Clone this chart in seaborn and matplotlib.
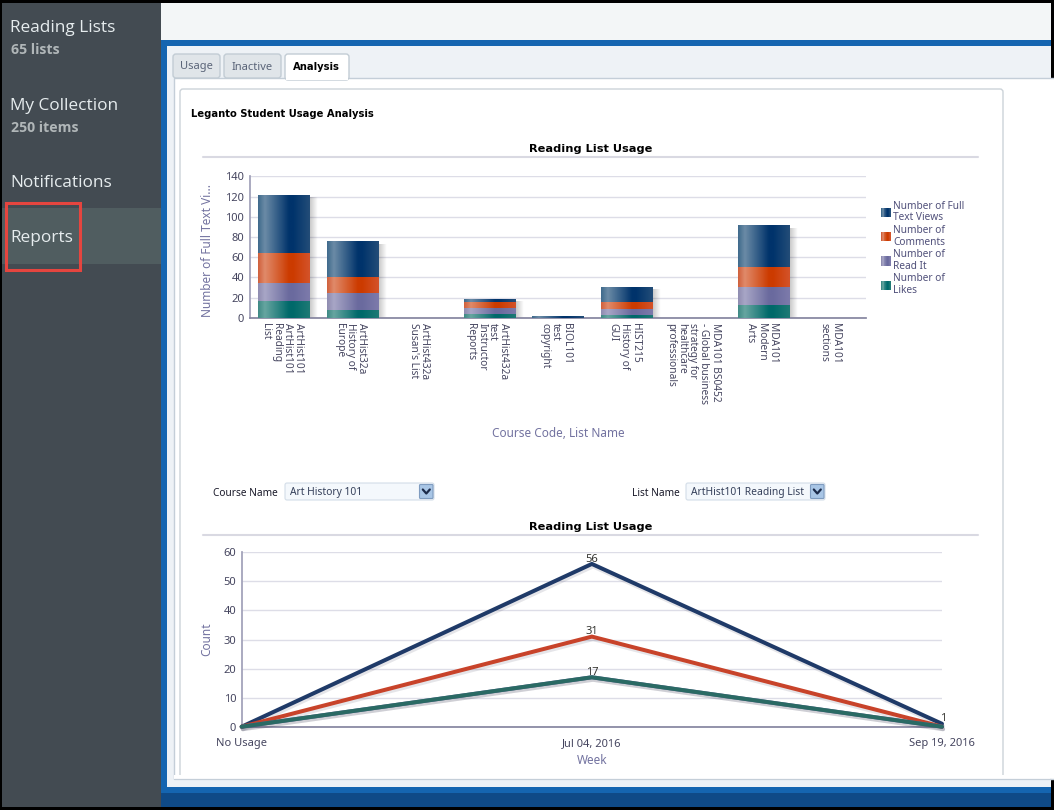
import matplotlib
matplotlib.use("Agg")
import matplotlib.pyplot as plt
import matplotlib.patheffects as pe
from matplotlib.colors import LinearSegmentedColormap
from matplotlib.legend_handler import HandlerBase
from matplotlib.patches import FancyBboxPatch, Rectangle
import numpy as np
import pandas as pd
import seaborn as sns

# chart data
course_labels = [
    "ArtHist101\nArtHist101\nReading\nList",
    "ArtHist32a\nHistory of\nEurope",
    "ArtHist432a\nSusan's List",
    "ArtHist432a\ntest\nInstructor\nReports",
    "BIOL101\ntest\ncopyright",
    "HIST215\nHistory of\nGUI",
    "MDA101 BS0452\n- Global business\nstrategy for\nhealthcare\nprofessionals",
    "MDA101\nModern\nArts",
    "MDA101\nsections",
]
likes = [17, 8, 0, 4, 0, 3, 0, 13, 0]
read_it = [17, 16, 0, 6, 0, 6, 0, 17, 0]
comments = [30, 16, 0, 6, 0, 7, 0, 20, 0]
full_text = [57, 35, 0, 2, 1, 14, 0, 41, 0]

weeks = ["No Usage", "Jul 04, 2016", "Sep 19, 2016"]
week_full_text = [0, 56, 1]
week_comments = [0, 31, 0]
week_read_it = [0, 17, 0]
week_likes = [0, 17, 0]

W, H = 1054, 810
UI_FONT = "Noto Sans"
SIDE_FONT = "Open Sans"
BOLD_FONT = "DejaVu Sans"
LABEL_COL = "#7373a0"
TICK_COL = "#45455f"

sns.set_theme(style="white")
plt.rcParams["font.family"] = [UI_FONT, "DejaVu Sans"]

GRADS = {
    "full": ["#3f6a8c", "#6b8ba6", "#00336b", "#00336b", "#234d78"],
    "comments": ["#d0603c", "#e08a6a", "#cc3b00", "#cc3b00", "#d4532a"],
    "read": ["#8f8cb0", "#a8a6c6", "#6a6a9e", "#6a6a9e", "#7d7bab"],
    "likes": ["#3f8a85", "#66a5a0", "#00696a", "#00696a", "#1f7a75"],
}
STOPS = [0, 0.13, 0.6, 0.68, 1]
LEGEND_NAMES = {
    "full": "Number of Full\nText Views",
    "comments": "Number of\nComments",
    "read": "Number of\nRead It",
    "likes": "Number of\nLikes",
}
LINE_COLS = {
    "Full": "#1f3a68",
    "Comments": "#c8432a",
    "Read": "#6a6a9e",
    "Likes": "#2a6a64",
}


def make_cmap(key):
    return LinearSegmentedColormap.from_list(key, list(zip(STOPS, GRADS[key])))


class GradientHandler(HandlerBase):
    """Legend swatch made of thin strips, so it shows the bar gradient."""

    def __init__(self, key):
        super().__init__()
        self.key = key

    def create_artists(self, legend, orig, xd, yd, width, height, fontsize, trans):
        cmap = make_cmap(self.key)
        n = 12
        return [
            Rectangle((-xd + width * i / n, -yd), width / n + 0.2, height,
                      facecolor=cmap(i / (n - 1)), edgecolor="none", transform=trans)
            for i in range(n)
        ]


def axes_px(fig, left, top, right, bottom):
    return fig.add_axes([left / W, 1 - bottom / H, (right - left) / W, (bottom - top) / H])


def rect(ax, x0, y0, x1, y1, color, edge="none", lw=0, round_=0):
    if round_:
        p = FancyBboxPatch((x0, y0), x1 - x0, y1 - y0, boxstyle=f"round,pad=0,rounding_size={round_}",
                           facecolor=color, edgecolor=edge, linewidth=lw)
    else:
        p = Rectangle((x0, y0), x1 - x0, y1 - y0, facecolor=color, edgecolor=edge, linewidth=lw)
    ax.add_patch(p)


def dropdown(ax, x0, x1, y0, y1, text):
    rect(ax, x0, y0, x1, y1, "#f4f8fc", "#d3dde8", 0.8, 2)
    rect(ax, x1 - 14.5, y0 + 1.5, x1 - 1, y1 - 1.5, "#a9c6e6", "#7f9cc0", 0.8, 1)
    cx, cy = x1 - 7.7, (y0 + y1) / 2
    ax.plot([cx - 3.5, cx, cx + 3.5], [cy - 2, cy + 2, cy - 2], color="#1c2b4a", lw=1.6)
    ax.text(x0 + 5, cy, text, fontsize=7.4, color="#35405a", va="center_baseline")


def draw_page(fig):
    ax = fig.add_axes([0, 0, 1, 1], zorder=0)
    ax.set_xlim(0, W)
    ax.set_ylim(H, 0)
    ax.axis("off")

    rect(ax, 0, 0, W, H, "black")
    rect(ax, 2, 3, 161, 807, "#434b52")
    rect(ax, 2, 208, 161, 264, "#505d60")
    rect(ax, 161, 3, 1051, 40, "#f3f6f7")
    rect(ax, 161, 40, 1051, 807, "#1565b0")
    rect(ax, 161, 793, 1051, 807, "#0f4a87")
    rect(ax, 167, 46, 1051, 787, "#eef2f6")
    rect(ax, 173.5, 78, 1060, 779, "white", "#c4ced8", 1)

    # tabs
    rect(ax, 173, 54, 220, 78, "#e0e5e9", "#c2ccd4", 1, 3)
    rect(ax, 224, 54, 281, 78, "#e0e5e9", "#c2ccd4", 1, 3)
    rect(ax, 285, 54, 349, 80, "white", "#c2ccd4", 1, 3)
    rect(ax, 286, 76, 348, 80, "white")
    ax.text(196.5, 67, "Usage", fontsize=8, color="#5a6478", ha="center", va="center")
    ax.text(252, 67, "Inactive", fontsize=8, color="#5a6478", ha="center", va="center")
    ax.text(316.5, 67, "Analysis", fontsize=7.2, color="black", ha="center", va="center",
            fontweight="bold", family=BOLD_FONT)

    # card, its bottom edge is cut off in the page
    rect(ax, 180, 89, 1003, 785, "white", "#ccd3d9", 1, 3)
    rect(ax, 174, 775, 1050, 778.5, "white")
    rect(ax, 167, 779.5, 1051, 787, "#eef2f6")
    ax.plot([174, 1051], [779, 779], color="#c4ced8", lw=0.9)

    ax.text(191, 114, "Leganto Student Usage Analysis", fontsize=7.2, color="black",
            va="center", fontweight="bold", family=BOLD_FONT)

    # chart headers
    for ty, ry in [(149, 157), (527, 535)]:
        ax.text(591, ty, "Reading List Usage", fontsize=8.2, color="black", ha="center",
                va="center", fontweight="bold", family=BOLD_FONT)
        ax.plot([203, 978], [ry, ry], color="#d9d9e2", lw=1.5)

    ax.text(213, 492, "Course Name", fontsize=7.3, color="#1a1a2a", va="center_baseline")
    dropdown(ax, 285, 434, 483, 500, "Art History 101")
    ax.text(632, 492, "List Name", fontsize=7.3, color="#1a1a2a", va="center_baseline")
    dropdown(ax, 686, 825, 483, 500, "ArtHist101 Reading List")

    # sidebar
    for txt, y in [("Reading Lists", 28), ("My Collection", 106), ("Notifications", 183), ("Reports", 238)]:
        ax.text(10.5, y, txt, fontsize=12.4, color="#e6ecee", va="center", family=SIDE_FONT)
    for txt, y in [("65 lists", 50), ("250 items", 128)]:
        ax.text(11, y, txt, fontsize=10.2, color="#b0b6b8", va="center", fontweight="bold", family=SIDE_FONT)
    ax.add_patch(Rectangle((5.5, 202.5), 74, 67, fill=False, edgecolor="#e5453f", linewidth=2.2))


def style_axes(ax, ylabel, xlabel, ymax, ystep):
    ax.set_facecolor("none")
    ax.set_ylim(0, ymax)
    ax.set_yticks(np.arange(0, ymax + 1, ystep))
    ax.grid(axis="y", color="#dddde7", lw=1)
    ax.grid(axis="x", visible=False)
    ax.set_axisbelow(True)
    for side in ["top", "right"]:
        ax.spines[side].set_visible(False)
    ax.spines["left"].set_color("#a0a0b8")
    ax.spines["bottom"].set_color("#8585a0")
    ax.tick_params(length=0, labelsize=8, labelcolor=TICK_COL, pad=4)
    ax.set_xlabel(xlabel, color=LABEL_COL, fontsize=8.5)
    ax.set_ylabel(ylabel, color=LABEL_COL, fontsize=8.5)


def draw_bars(fig):
    ax = axes_px(fig, 249.5, 176.3, 866, 317.7)
    ax.set_zorder(2)
    bottom = np.zeros(len(course_labels))
    series = [("likes", likes), ("read", read_it), ("comments", comments), ("full", full_text)]
    for key, vals in series:
        n_before = len(ax.patches)
        sns.barplot(x=course_labels, y=vals, bottom=bottom, color=GRADS[key][2], saturation=1,
                    width=0.745, ax=ax, zorder=3)
        grad = np.linspace(0, 1, 128).reshape(1, -1)
        for bar in ax.patches[n_before:]:
            bar.set_visible(False)
            if bar.get_height() > 0:
                ax.imshow(grad, cmap=make_cmap(key), aspect="auto", zorder=3, origin="lower",
                          extent=[bar.get_x(), bar.get_x() + bar.get_width(),
                                  bar.get_y(), bar.get_y() + bar.get_height()])
        bottom = bottom + np.array(vals)

    # soft shadow on the right side of each column
    fade = np.zeros((1, 32, 4))
    fade[..., 3] = np.linspace(0.24, 0, 32)
    drop = 9 / 68.5
    for i, total in enumerate(bottom):
        if total >= 2:
            right = i + 0.745 / 2
            ax.imshow(fade, aspect="auto", zorder=2, extent=[right, right + drop, 0, max(total - 2, 1)])

    ax.set_xlim(-0.5, len(course_labels) - 0.5)
    style_axes(ax, "Number of Full Text Vi...", "Course Code, List Name", 140, 20)
    ax.set_xticks(range(len(course_labels)))
    ax.set_xticklabels(course_labels, rotation=270, ha="center", va="top", multialignment="left",
                       linespacing=1.02, fontsize=7.3, color=TICK_COL)
    ax.tick_params(axis="x", pad=4)
    shift = matplotlib.transforms.ScaledTranslation(-2 / 100, 0, fig.dpi_scale_trans)
    for lab in ax.get_xticklabels():
        lab.set_transform(lab.get_transform() + shift)
    ax.xaxis.set_label_coords((558 - 249.5) / 616.5, -(427 - 317.7) / 141.4)
    ax.yaxis.set_label_coords(-(249.5 - 214) / 616.5, (317.7 - 250) / 141.4)

    handles = [Rectangle((0, 0), 1, 1) for _ in GRADS]
    names = list(GRADS)
    leg = ax.legend(handles, [LEGEND_NAMES[k] for k in names],
                    handler_map={h: GradientHandler(k) for h, k in zip(handles, names)},
                    loc="upper left", bbox_to_anchor=(881 / W, 1 - 201 / H), bbox_transform=fig.transFigure,
                    frameon=False, fontsize=7.3, labelcolor="#50507a", handlelength=1.0, handleheight=1.0,
                    handletextpad=0.2, labelspacing=0.17, borderpad=0, borderaxespad=0)
    for txt in leg.get_texts():
        txt.set_linespacing(1.05)


def draw_lines(fig):
    ax = axes_px(fig, 241.7, 552.3, 942, 726.7)
    ax.set_zorder(2)
    frame = pd.concat([
        pd.DataFrame({"week": weeks, "series": name, "count": vals})
        for name, vals in [("Full", week_full_text), ("Comments", week_comments),
                           ("Read", week_read_it), ("Likes", week_likes)]
    ])
    sns.lineplot(data=frame, x="week", y="count", hue="series", palette=LINE_COLS, sort=False,
                 legend=False, lw=2.9, ax=ax, clip_on=False, zorder=3)
    for line in ax.lines:
        line.set_solid_joinstyle("miter")
        line.set_path_effects([
            pe.SimpleLineShadow(offset=(0.8, -1.8), shadow_color="#30304a", alpha=0.12),
            pe.Normal(),
        ])
    ax.set_xlim(0, len(weeks) - 1)
    style_axes(ax, "Count", "Week", 60, 10)
    ax.tick_params(axis="x", pad=8)
    ax.xaxis.set_label_coords(0.5, -(754 - 726.7) / 174.4)
    ax.yaxis.set_label_coords(-(241.7 - 213) / 700.3, (726.7 - 639) / 174.4)

    # value labels, zeros stay unlabelled
    for vals in [week_full_text, week_comments, week_likes]:
        for i, v in enumerate(vals):
            if v > 0:
                ax.annotate(str(v), (i, v), xytext=(1 if i == 2 else 0, -0.5), textcoords="offset points",
                            ha="center", va="bottom", fontsize=8, color="#33332f", zorder=5,
                            annotation_clip=False)


fig = plt.figure(figsize=(W / 100, H / 100), dpi=100)
draw_page(fig)
draw_bars(fig)
draw_lines(fig)
fig.savefig("out.png", dpi=100)
